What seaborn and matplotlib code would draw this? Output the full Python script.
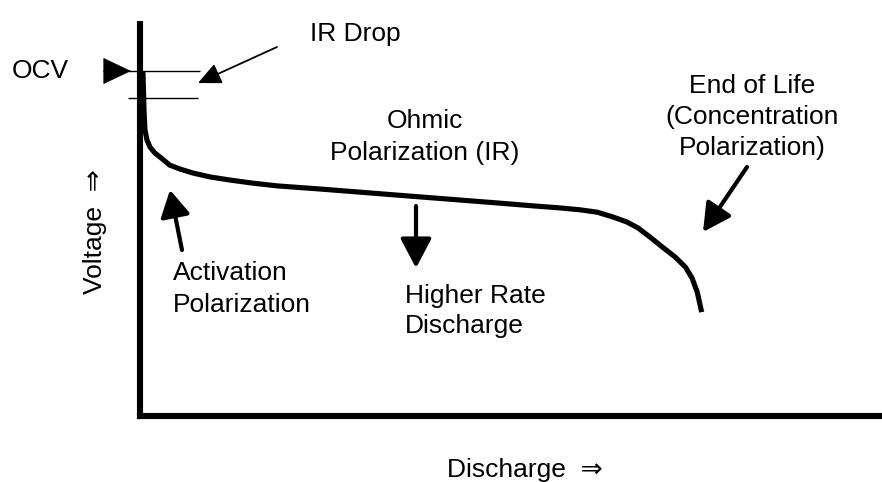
import matplotlib
matplotlib.use("Agg")
import matplotlib.pyplot as plt
import seaborn as sns
import pandas as pd

# schematic discharge curve (discharge %, voltage % of axis height)
discharge = [0.4, 0.54, 0.67, 0.94, 1.35, 2.0, 3.0, 4.0, 5.4, 7.1, 9.4, 12.1,
             15.2, 18.5, 24.3, 31.0, 37.7, 43.1, 48.5, 53.0, 56.5, 59.3, 61.6,
             63.7, 65.6, 67.1, 68.7, 70.4, 72.1, 73.5, 74.4, 75.1, 75.7]
voltage = [87.8, 78.1, 73.0, 70.4, 68.6, 67.1, 65.6, 64.0, 63.0, 62.0, 61.0, 60.2,
           59.4, 58.7, 57.9, 56.9, 55.9, 55.1, 54.3, 53.6, 53.1, 52.6, 52.0,
           50.8, 49.5, 48.0, 45.7, 43.1, 40.6, 38.0, 35.2, 31.6, 26.5]
ocv_level = 88.0
ir_level = 81.1

sns.set_theme(style="white")
plt.rcParams["font.family"] = ["Liberation Sans", "DejaVu Sans"]
plt.rcParams["text.color"] = "black"

W, H = 882, 482
fig = plt.figure(figsize=(W / 100, H / 100), dpi=100)
ax = fig.add_axes([140 / W, 1 - 416 / H, 742 / W, 392 / H])


def P(x, y):
    return (x / W, 1 - y / H)


df = pd.DataFrame({"discharge": discharge, "voltage": voltage})
sns.lineplot(data=df, x="discharge", y="voltage", sort=False, estimator=None,
             color="black", lw=3.7, ax=ax, solid_capstyle="butt",
             solid_joinstyle="round")

ax.set_xlim(0, 100)
ax.set_ylim(0, 100)
ax.set_xticks([])
ax.set_yticks([])
ax.set_xlabel("")
ax.set_ylabel("")
for side in ["top", "right"]:
    ax.spines[side].set_visible(False)
for side in ["left", "bottom"]:
    ax.spines[side].set_linewidth(4.4)
    ax.spines[side].set_color("black")

# OCV and IR drop levels
ax.hlines([ocv_level, ir_level], [-1.6, -1.6], [8.1, 7.8], colors="black",
          lw=1.0, clip_on=False)

fs = 19
ff = "figure fraction"


def arrow(tail, tip, lw, hl, hw):
    ax.annotate("", xy=P(*tip), xytext=P(*tail), xycoords=ff, textcoords=ff,
                arrowprops=dict(arrowstyle=f"-|>,head_length={hl},head_width={hw}",
                                color="black", lw=lw, shrinkA=0, shrinkB=0,
                                mutation_scale=10))


arrow((103, 71), (131, 71), 0.5, 1.9, 0.9)
arrow((277, 47), (198, 83), 1.3, 1.4, 0.65)
arrow((182, 250), (170, 190), 3.0, 1.6, 0.9)
arrow((416, 206), (416, 268), 3.0, 1.8, 0.95)
arrow((747, 167), (703, 232), 3.0, 1.7, 0.9)

fig.text(*P(12, 78), "OCV", fontsize=fs, ha="left", va="baseline")
fig.text(*P(310, 41), "IR Drop", fontsize=fs, ha="left", va="baseline")
fig.text(*P(425, 128), "Ohmic", fontsize=fs, ha="center", va="baseline")
fig.text(*P(425, 160), "Polarization (IR)", fontsize=fs, ha="center", va="baseline")
fig.text(*P(173, 280), "Activation", fontsize=fs, ha="left", va="baseline")
fig.text(*P(173, 312), "Polarization", fontsize=fs, ha="left", va="baseline")
fig.text(*P(405, 303), "Higher Rate", fontsize=fs, ha="left", va="baseline")
fig.text(*P(405, 333), "Discharge", fontsize=fs, ha="left", va="baseline")
fig.text(*P(752, 93), "End of Life", fontsize=fs, ha="center", va="baseline")
fig.text(*P(752, 124), "(Concentration", fontsize=fs, ha="center", va="baseline")
fig.text(*P(752, 155), "Polarization)", fontsize=fs, ha="center", va="baseline")
fig.text(*P(447, 477), "Discharge  \u21d2", fontsize=fs, ha="left", va="baseline")
fig.text(*P(95, 232), "Voltage  \u21d2", fontsize=fs, ha="center", va="center",
         rotation=90)

fig.savefig("out.png", dpi=100, facecolor="white")
